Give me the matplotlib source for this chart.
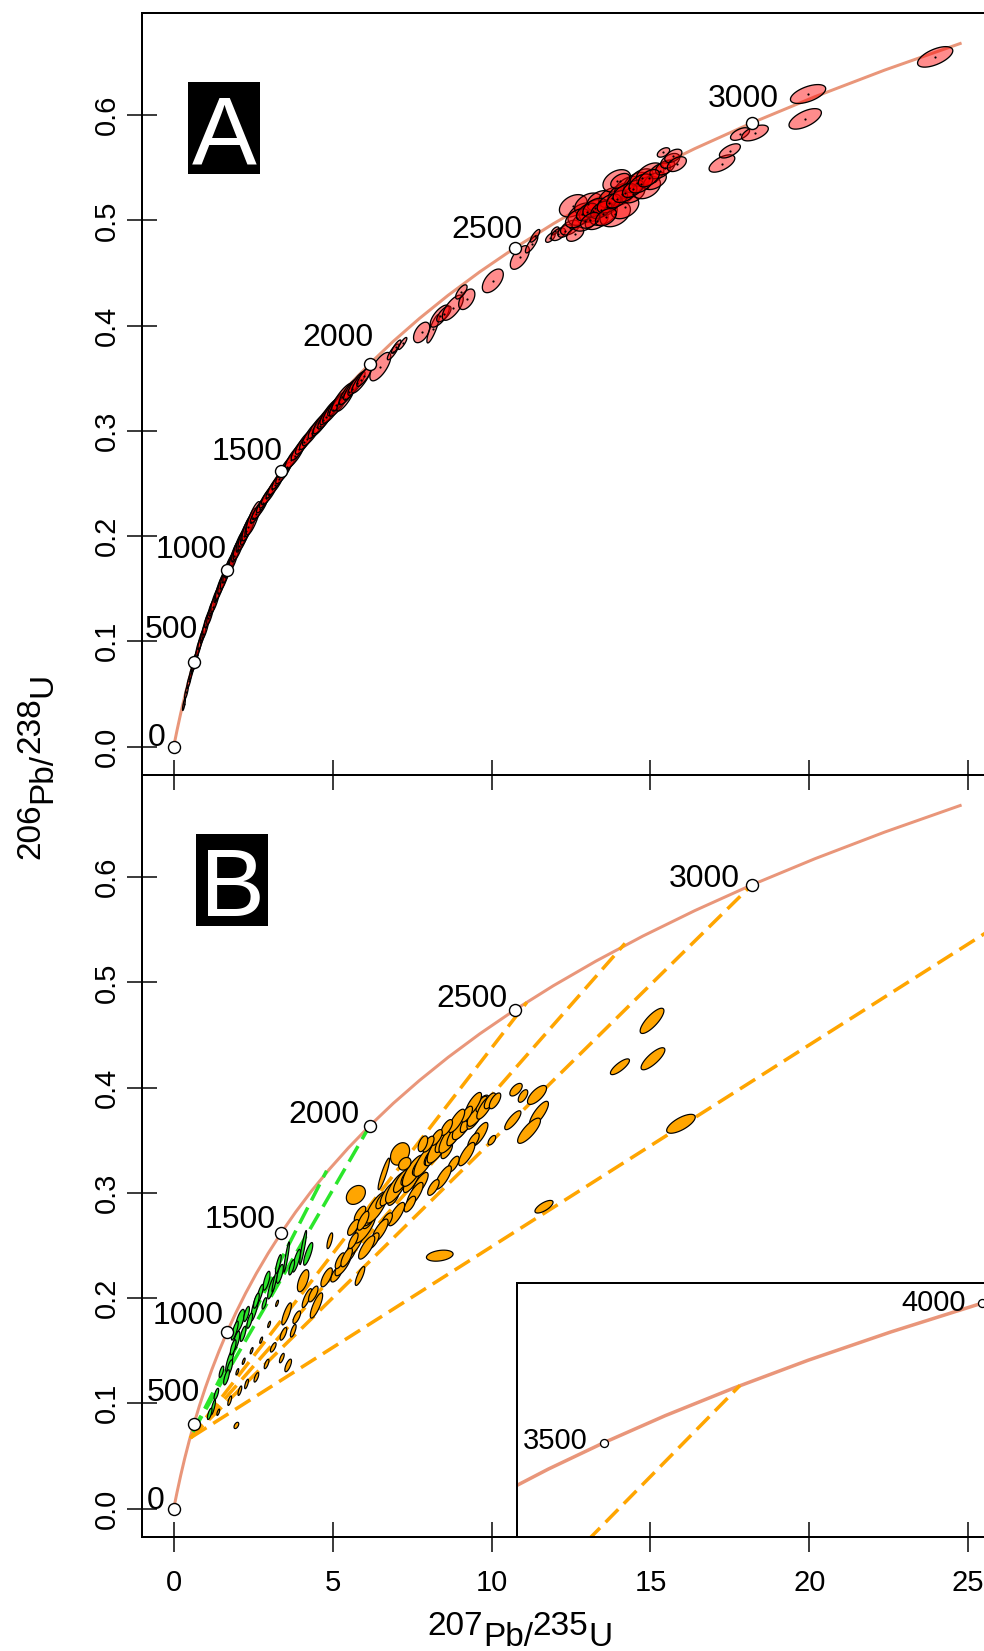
import numpy as np
import matplotlib
matplotlib.use("Agg")
import matplotlib.pyplot as plt
from matplotlib.collections import PolyCollection
from matplotlib.patches import Rectangle

plt.rcParams['font.family'] = ['Liberation Sans', 'DejaVu Sans']
plt.rcParams['lines.scale_dashes'] = False

# ---------------- data ----------------
# concordia (age Ma, 207Pb/235U, 206Pb/238U)
conc_t = [0, 50, 100, 200, 300, 400, 500, 600, 700, 800, 900, 1000, 1100, 1200, 1300, 1400,
          1500, 1600, 1700, 1800, 1900, 2000, 2100, 2200, 2300, 2400, 2500, 2600, 2700, 2800,
          2900, 3000, 3100, 3200, 3300, 3400, 3500, 3600, 3700, 3800, 3900, 4000, 4100]
conc_x = [0, 0.0505, 0.1035, 0.2177, 0.3438, 0.4828, 0.6363, 0.8056, 0.9925, 1.1987, 1.4263,
          1.6774, 1.9545, 2.2603, 2.5978, 2.9701, 3.3809, 3.8344, 4.3348, 4.8869, 5.4962,
          6.1685, 6.9104, 7.7291, 8.6327, 9.6296, 10.7296, 11.9436, 13.2834, 14.7626, 16.3929,
          18.1931, 20.1796, 22.3715, 24.7904, 27.4597, 30.405, 33.656, 37.242, 41.201, 45.568,
          50.388, 55.706]
conc_y = [0, 0.00779, 0.01563, 0.03151, 0.04764, 0.06402, 0.08066, 0.09754, 0.11470, 0.13213,
          0.14982, 0.16782, 0.18606, 0.20459, 0.22343, 0.24257, 0.26199, 0.28172, 0.30175,
          0.32212, 0.34278, 0.36376, 0.38513, 0.40674, 0.42876, 0.45109, 0.47377, 0.49677,
          0.52014, 0.54398, 0.56810, 0.59262, 0.61750, 0.64277, 0.66847, 0.69459, 0.72098,
          0.74796, 0.77517, 0.80308, 0.83123, 0.85990, 0.88912]
main_max_age = 3300
main_ages = [0, 500, 1000, 1500, 2000, 2500, 3000]
inset_ages = [3500, 4000]

# Panel A ellipses (x, y, sx, sy, rho)
A_x = [0.32, 0.40, 0.48, 0.55, 0.62, 0.66, 0.72, 0.78, 0.85, 0.92, 1.00, 1.08, 1.15, 1.22, 1.30,
       1.38, 1.45, 1.52, 1.60, 1.68, 1.75, 1.82, 1.90, 1.98, 2.05, 2.12, 2.20, 2.28, 2.35, 2.42, 2.50,
       2.60, 2.70, 2.80, 2.90, 3.00, 3.10, 3.20, 3.30, 3.45, 3.55, 3.70, 3.80, 3.95, 4.10, 4.20,
       4.35, 4.50, 4.60, 4.70, 4.80, 4.90, 5.00, 5.10, 5.20, 5.30, 5.40, 5.50, 5.60, 5.75, 5.90,
       6.00, 6.50, 6.90, 7.00, 7.20,
       7.80, 8.16, 8.37, 8.50, 8.78, 9.22, 9.05, 10.04, 10.89, 11.26, 11.37,
       11.85, 12.00, 12.10, 12.31, 12.47, 12.63, 12.57, 12.84, 12.94, 13.05, 13.20, 13.31, 13.41,
       13.52, 13.62, 13.78, 13.89, 13.94, 14.10, 14.20, 14.31, 14.46, 14.57, 14.72, 14.88, 14.99,
       15.14, 15.30, 15.46, 15.62, 15.72, 15.83, 15.41, 14.05,
       12.70, 13.00, 13.25, 13.45, 13.70, 13.95, 14.20, 14.45, 14.70, 14.95, 13.10, 13.60,
       17.25, 17.50, 17.82, 18.29, 19.87, 19.96, 23.96]
A_y = [0.040, 0.052, 0.062, 0.070, 0.077, 0.081, 0.087, 0.094, 0.101, 0.107, 0.114, 0.122, 0.127,
       0.133, 0.139, 0.146, 0.151, 0.156, 0.161, 0.167, 0.172, 0.176, 0.181, 0.187, 0.191, 0.196,
       0.200, 0.205, 0.209, 0.213, 0.217,
       0.221, 0.226, 0.231, 0.236, 0.240, 0.245, 0.249, 0.254, 0.260, 0.266, 0.272, 0.276, 0.283,
       0.289, 0.292, 0.298, 0.304, 0.305, 0.310, 0.313, 0.318, 0.320, 0.325, 0.326, 0.332, 0.330,
       0.337, 0.340, 0.345, 0.348, 0.352, 0.361, 0.375, 0.380, 0.383,
       0.3935, 0.397, 0.409, 0.411, 0.417, 0.425, 0.432, 0.4425, 0.4647, 0.4773, 0.4853,
       0.4836, 0.4900, 0.4868, 0.4899, 0.4931, 0.4868, 0.5138, 0.5059, 0.4995, 0.5153, 0.5090,
       0.4995, 0.5185, 0.5059, 0.5122, 0.5217, 0.5059, 0.5375, 0.5248, 0.5122, 0.5312, 0.5248,
       0.5359, 0.5407, 0.5312, 0.5439, 0.5375, 0.5470, 0.5502, 0.5565, 0.5613, 0.5534, 0.5645,
       0.5375,
       0.502, 0.508, 0.512, 0.510, 0.516, 0.520, 0.526, 0.530, 0.535, 0.540, 0.500, 0.503,
       0.554, 0.566, 0.582, 0.583, 0.5964, 0.620, 0.6553]
A_sx = [0.03, 0.04, 0.045, 0.045, 0.045, 0.06, 0.045, 0.06, 0.06, 0.06, 0.075, 0.075, 0.075, 0.075,
        0.09, 0.075, 0.09, 0.09, 0.09, 0.09, 0.105, 0.09, 0.105, 0.105, 0.12, 0.105, 0.12, 0.12,
        0.135, 0.12, 0.15,
        0.13, 0.16, 0.13, 0.14, 0.16, 0.13, 0.16, 0.14, 0.16, 0.17, 0.16, 0.20, 0.17, 0.18, 0.16,
        0.20, 0.18, 0.16, 0.21, 0.18, 0.20, 0.21, 0.17, 0.20, 0.22, 0.18, 0.20, 0.17, 0.18, 0.20,
        0.16, 0.22, 0.12, 0.10, 0.09,
        0.17, 0.13, 0.20, 0.15, 0.22, 0.17, 0.12, 0.22, 0.20, 0.13, 0.10,
        0.10, 0.08, 0.15, 0.15, 0.20, 0.18, 0.29, 0.29, 0.27, 0.29, 0.29, 0.24, 0.27, 0.29, 0.24,
        0.27, 0.32, 0.29, 0.29, 0.29, 0.29, 0.24, 0.27, 0.24, 0.29, 0.29, 0.24, 0.22, 0.20, 0.20,
        0.18, 0.20, 0.13, 0.20,
        0.25, 0.22, 0.25, 0.22, 0.25, 0.22, 0.25, 0.22, 0.25, 0.22, 0.20, 0.22,
        0.27, 0.22, 0.20, 0.28, 0.34, 0.37, 0.37]
A_sy = [0.0038, 0.0045, 0.0045, 0.0045, 0.0045, 0.006, 0.0045, 0.006, 0.006, 0.006, 0.0075, 0.006,
        0.0075, 0.006, 0.0075, 0.006, 0.0075, 0.0075, 0.0075, 0.0075, 0.0075, 0.0075, 0.009,
        0.0075, 0.009, 0.0075, 0.009, 0.009, 0.009, 0.009, 0.0105,
        0.0059, 0.0068, 0.0059, 0.0062, 0.0068, 0.0059, 0.0068, 0.0062, 0.0068, 0.0072, 0.0068,
        0.0081, 0.0072, 0.0075, 0.0065, 0.0081, 0.0075, 0.0065, 0.0085, 0.0075, 0.0081, 0.0085,
        0.0072, 0.0081, 0.0088, 0.0075, 0.0081, 0.0072, 0.0075, 0.0081, 0.0065, 0.0090, 0.0050,
        0.0042, 0.0038,
        0.0065, 0.0090, 0.0070, 0.0050, 0.0080, 0.0065, 0.0045, 0.0075, 0.0075, 0.0055, 0.0040,
        0.0030, 0.0025, 0.0040, 0.0040, 0.0047, 0.0045, 0.0071, 0.0071, 0.0065, 0.0071, 0.0071,
        0.0055, 0.0065, 0.0071, 0.0055, 0.0065, 0.0080, 0.0071, 0.0071, 0.0071, 0.0071, 0.0055,
        0.0065, 0.0055, 0.0071, 0.0071, 0.0055, 0.0050, 0.0047, 0.0047, 0.0042, 0.0047, 0.0030,
        0.0047,
        0.0060, 0.0055, 0.0060, 0.0055, 0.0060, 0.0055, 0.0060, 0.0055, 0.0060, 0.0055, 0.0050,
        0.0055,
        0.0055, 0.0045, 0.0040, 0.0050, 0.0065, 0.0060, 0.0065]
A_rho = [0.8] * 31 + [0.85] * 31 + [0.7, 0.85, 0.85, 0.85] + \
        [0.5, 0.85, 0.7, 0.7, 0.7, 0.5, 0.7, 0.55, 0.6, 0.8, 0.8] + \
        [0.6, 0.6, 0.5, 0.5, 0.46, 0.46, 0.36, 0.4, 0.4, 0.36, 0.4, 0.45, 0.36, 0.4, 0.45, 0.36,
         0.36, 0.36, 0.4, 0.4, 0.4, 0.45, 0.4, 0.45, 0.36, 0.4, 0.45, 0.46, 0.46, 0.46, 0.5, 0.46,
         0.5, 0.46] + \
        [0.45, 0.5, 0.45, 0.5, 0.45, 0.5, 0.45, 0.5, 0.45, 0.5, 0.5, 0.45] + \
        [0.6, 0.6, 0.55, 0.55, 0.6, 0.56, 0.6]

# Panel B orange ellipses
B_or_x = [5.12, 5.33, 5.54, 5.70, 5.86, 6.01, 6.12, 6.22, 6.38, 6.54, 6.75, 6.91, 7.01, 7.17, 7.33,
          7.48, 7.54, 7.69, 7.75, 7.90, 8.06, 8.17, 8.32, 8.48, 8.59, 8.69, 8.85, 9.01, 9.11, 9.27,
          9.37, 9.48, 9.58, 9.69, 9.79, 9.95, 10.11, 9.63, 9.43, 9.22, 8.80, 8.48, 8.17, 7.59, 7.43,
          7.01, 6.70, 6.49, 6.28, 6.07, 5.86, 5.65, 9.43, 9.22, 8.90, 8.59, 8.27, 8.01,
          10.77, 10.99, 11.43, 11.49, 11.18, 10.67, 10.01, 15.05, 15.08, 14.04, 15.96, 11.65, 8.37,
          7.12, 5.73, 7.27, 7.84, 4.91, 6.61,
          3.60, 4.07, 5.86, 4.49, 4.19, 3.55, 3.40, 1.97, 3.76, 5.23, 5.44, 5.65, 5.96, 4.81, 4.39,
          3.87, 3.45, 3.13, 2.92, 2.60, 2.29, 2.08, 1.76, 1.40, 1.13,
          2.45, 2.75, 3.00, 2.20, 3.25, 2.00]
B_or_y = [0.2228, 0.2323, 0.2418, 0.2513, 0.2608, 0.2671, 0.2735, 0.2798, 0.2861, 0.2924, 0.2988,
          0.2956, 0.3051, 0.3114, 0.3146, 0.3114, 0.3210, 0.3241, 0.3083, 0.3304, 0.3336, 0.3368,
          0.3431, 0.3494, 0.3400, 0.3526, 0.3558, 0.3590, 0.3653, 0.3684, 0.3748, 0.3716, 0.3780,
          0.3843, 0.3811, 0.3874, 0.3874, 0.3558, 0.3494, 0.3368, 0.3273, 0.3146, 0.3051, 0.2988,
          0.2893, 0.2798, 0.2735, 0.2640, 0.2545, 0.2481, 0.2798, 0.2671, 0.3843, 0.3748, 0.3684,
          0.3621, 0.3526, 0.3463,
          0.398, 0.392, 0.393, 0.375, 0.359, 0.369, 0.350, 0.4634, 0.4274, 0.4198, 0.3656, 0.2868,
          0.2403, 0.337, 0.298, 0.3276, 0.3466, 0.2545, 0.318,
          0.136, 0.2165, 0.221, 0.193, 0.200, 0.185, 0.143, 0.079, 0.169, 0.2355, 0.2387, 0.2545,
          0.2735, 0.2197, 0.2039, 0.1818, 0.166, 0.1532, 0.1374, 0.1247, 0.1184, 0.112, 0.1025,
          0.0915, 0.0899,
          0.150, 0.160, 0.175, 0.140, 0.195, 0.130]
B_or_sx = [0.12, 0.17, 0.12, 0.17, 0.12, 0.23, 0.12, 0.17, 0.23, 0.12, 0.17, 0.12, 0.23, 0.17, 0.12,
           0.17, 0.23, 0.12, 0.17, 0.23, 0.12, 0.17, 0.23, 0.17, 0.12, 0.23, 0.17, 0.12, 0.23, 0.17,
           0.12, 0.17, 0.23, 0.12, 0.17, 0.12, 0.12, 0.17, 0.12, 0.17, 0.12, 0.17, 0.12, 0.17, 0.12,
           0.17, 0.12, 0.17, 0.12, 0.17, 0.12, 0.12, 0.17, 0.12, 0.17, 0.12, 0.12, 0.12,
           0.13, 0.10, 0.20, 0.20, 0.24, 0.17, 0.08, 0.25, 0.25, 0.20, 0.30, 0.19, 0.28, 0.20, 0.20,
           0.13, 0.10, 0.06, 0.12,
           0.07, 0.12, 0.10, 0.13, 0.10, 0.10, 0.05, 0.05, 0.06, 0.10, 0.12, 0.10, 0.12, 0.12, 0.10,
           0.08, 0.07, 0.06, 0.05, 0.05, 0.04, 0.04, 0.04, 0.03, 0.03,
           0.03, 0.03, 0.03, 0.03, 0.03, 0.03]
B_or_sy = [0.005, 0.0074, 0.005, 0.0074, 0.005, 0.0099, 0.005, 0.0074, 0.0099, 0.005, 0.0074,
           0.005, 0.0099, 0.0074, 0.005, 0.0074, 0.0099, 0.005, 0.0074, 0.0099, 0.005, 0.0074,
           0.0099, 0.0074, 0.005, 0.0099, 0.0074, 0.005, 0.0099, 0.0074, 0.005, 0.0074, 0.0099,
           0.005, 0.0074, 0.005, 0.005, 0.0074, 0.005, 0.0074, 0.005, 0.0074, 0.005, 0.0074, 0.005,
           0.0074, 0.005, 0.0074, 0.005, 0.0074, 0.005, 0.005, 0.0074, 0.005, 0.0074, 0.005, 0.005,
           0.005,
           0.004, 0.004, 0.006, 0.008, 0.008, 0.006, 0.003, 0.008, 0.007, 0.005, 0.006, 0.004,
           0.0035, 0.0071, 0.006, 0.004, 0.005, 0.005, 0.010,
           0.004, 0.007, 0.006, 0.008, 0.006, 0.007, 0.003, 0.002, 0.004, 0.005, 0.006, 0.005,
           0.006, 0.006, 0.005, 0.004, 0.004, 0.003, 0.003, 0.003, 0.003, 0.003, 0.003, 0.002,
           0.002,
           0.002, 0.002, 0.002, 0.002, 0.002, 0.002]
B_or_rho = [0.67, 0.77, 0.67, 0.77, 0.67, 0.77, 0.67, 0.77, 0.77, 0.67, 0.77, 0.67, 0.77, 0.77,
            0.67, 0.77, 0.77, 0.67, 0.77, 0.77, 0.67, 0.77, 0.77, 0.77, 0.67, 0.77, 0.77, 0.67,
            0.77, 0.77, 0.67, 0.77, 0.77, 0.67, 0.77, 0.67, 0.67, 0.77, 0.67, 0.77, 0.67, 0.77,
            0.67, 0.77, 0.67, 0.77, 0.67, 0.77, 0.67, 0.77, 0.67, 0.67, 0.77, 0.67, 0.77, 0.67,
            0.67, 0.67,
            0.6, 0.6, 0.7, 0.8, 0.8, 0.8, 0.6, 0.8, 0.8, 0.8, 0.7, 0.7, 0.3, 0.3, 0.3, 0.3, 0.5,
            0.7, 0.9,
            0.7, 0.6, 0.8, 0.8, 0.8, 0.8, 0.7, 0.5, 0.7, 0.7, 0.7, 0.7, 0.7, 0.7, 0.7, 0.7, 0.7,
            0.7, 0.7, 0.7, 0.7, 0.7, 0.7, 0.7, 0.7,
            0.7, 0.7, 0.7, 0.7, 0.7, 0.7]

# Panel B green ellipses
B_gr_x = [4.23, 4.07, 3.86, 3.55, 3.34, 3.08, 2.92, 2.55, 2.08, 2.18, 1.97, 1.76, 1.76, 1.66, 1.34,
          1.24, 1.13, 2.71, 2.39, 3.18, 3.29, 3.71, 2.60, 2.29, 1.92, 1.87, 1.50, 2.85]
B_gr_y = [0.242, 0.248, 0.2355, 0.239, 0.223, 0.210, 0.2165, 0.191, 0.1785, 0.166, 0.1595, 0.1405,
          0.134, 0.1247, 0.1089, 0.0963, 0.090, 0.204, 0.1785, 0.2165, 0.2323, 0.2292, 0.1975,
          0.1849, 0.1691, 0.1532, 0.130, 0.195]
B_gr_sx = [0.08, 0.06, 0.07, 0.05, 0.06, 0.07, 0.06, 0.07, 0.08, 0.05, 0.06, 0.07, 0.05, 0.05, 0.04,
           0.04, 0.04, 0.06, 0.05, 0.05, 0.05, 0.05, 0.05, 0.05, 0.06, 0.05, 0.04, 0.04]
B_gr_sy = [0.006, 0.009, 0.006, 0.008, 0.005, 0.006, 0.005, 0.007, 0.006, 0.004, 0.005, 0.006,
           0.004, 0.004, 0.003, 0.004, 0.003, 0.005, 0.004, 0.006, 0.005, 0.004, 0.004, 0.004,
           0.005, 0.004, 0.003, 0.003]
B_gr_rho = [0.8, 0.9, 0.8, 0.9, 0.7, 0.8, 0.7, 0.8, 0.7, 0.7, 0.7, 0.8, 0.7, 0.7, 0.7, 0.8, 0.7,
            0.8, 0.7, 0.9, 0.8, 0.7, 0.7, 0.7, 0.8, 0.7, 0.7, 0.7]

# discordia lines (lower point -> upper intercept)
dis_or_x0 = [0.52, 0.52, 0.52, 0.55]
dis_or_y0 = [0.067, 0.067, 0.067, 0.0677]
dis_or_x1 = [11.11, 14.20, 18.19, 37.60]
dis_or_y1 = [0.481, 0.537, 0.5926, 0.778]
dis_gr_x0 = [0.60, 0.60]
dis_gr_y0 = [0.073, 0.073]
dis_gr_x1 = [6.17, 4.81]
dis_gr_y1 = [0.3638, 0.321]

xticks = [0, 5, 10, 15, 20, 25]
yticks = [0.0, 0.1, 0.2, 0.3, 0.4, 0.5, 0.6]

# ---------------- styles / layout ----------------
W, H, DPI = 984, 1651, 100
PX = 72.0 / DPI  # points per pixel
SALMON = '#E9967A'
ORANGE = '#FFA500'
GREEN = '#2BE62B'
ELL_K_A = 1.5   # confidence-ellipse scale factors
ELL_K_B = 1.5
ELL_K_G = 1.8

fig = plt.figure(figsize=(W / DPI, H / DPI), dpi=DPI)
fig.patch.set_facecolor('white')


def box(l, t, r, b):
    return [l / W, 1 - b / H, (r - l) / W, (b - t) / H]


axI = fig.add_axes(box(517, 1283, 1000, 1537), zorder=0.5)
axA = fig.add_axes(box(142, 13, 1000, 775), zorder=1)
axB = fig.add_axes(box(142, 775, 1000, 1537), zorder=1)
axA.patch.set_visible(False)
axB.patch.set_visible(False)


def ellipse_polys(xs, ys, sxs, sys_, rhos, k, n=48):
    t = np.linspace(0, 2 * np.pi, n)
    polys = []
    for x, y, sx, sy, r in zip(xs, ys, sxs, sys_, rhos):
        px = x + k * sx * np.cos(t)
        py = y + k * sy * (r * np.cos(t) + np.sqrt(1 - r * r) * np.sin(t))
        polys.append(np.column_stack([px, py]))
    return polys


def idx(age):
    return conc_t.index(age)


for ax in (axA, axB):
    ax.set_xlim(-1, 26)
    ax.set_ylim(-0.027, 0.697)
    ax.set_xticks(xticks)
    ax.set_yticks(yticks)
    ax.set_yticklabels([f"{v:.1f}" for v in yticks], rotation=90, va='center')
    ax.tick_params(direction='inout', length=30 * PX, width=1.5 * PX, labelsize=21)
    ax.tick_params(axis='y', pad=6 * PX)
    ax.tick_params(axis='x', pad=17 * PX)
    for s in ax.spines.values():
        s.set_linewidth(2 * PX)
    ax.spines['right'].set_visible(False)
    nmax = idx(main_max_age) + 1
    ax.plot(conc_x[:nmax], conc_y[:nmax], color=SALMON, lw=3 * PX, zorder=2,
            solid_capstyle='butt')

axA.tick_params(axis='x', labelbottom=False)

# Panel A ellipses
pc = PolyCollection(ellipse_polys(A_x, A_y, A_sx, A_sy, A_rho, ELL_K_A),
                    facecolors=(1, 0, 0, 0.45), edgecolors='black', linewidths=1.3 * PX, zorder=3)
axA.add_collection(pc)
axA.plot(A_x, A_y, 'o', ms=2.2 * PX, color='black', zorder=4, mew=0)

# Panel B discordia lines
for x0, y0, x1, y1 in zip(dis_or_x0, dis_or_y0, dis_or_x1, dis_or_y1):
    for ax in (axB, axI):
        ax.plot([x0, x1], [y0, y1], color=ORANGE, lw=3.5 * PX, dashes=(18 * PX, 8 * PX), zorder=2.5)
for x0, y0, x1, y1 in zip(dis_gr_x0, dis_gr_y0, dis_gr_x1, dis_gr_y1):
    axB.plot([x0, x1], [y0, y1], color=GREEN, lw=3.5 * PX, dashes=(18 * PX, 8 * PX), zorder=2.5)

pcB = PolyCollection(ellipse_polys(B_or_x, B_or_y, B_or_sx, B_or_sy, B_or_rho, ELL_K_B),
                     facecolors=ORANGE, edgecolors='black', linewidths=1.2 * PX, zorder=3)
axB.add_collection(pcB)
pcG = PolyCollection(ellipse_polys(B_gr_x, B_gr_y, B_gr_sx, B_gr_sy, B_gr_rho, ELL_K_G),
                     facecolors=GREEN, edgecolors='black', linewidths=1.2 * PX, zorder=3)
axB.add_collection(pcG)

# age markers + labels
offA = [(-8, 1), (4, 24), (0, 12), (1, 11), (4, 18), (8, 10), (27, 16)]
offB = [(-9, 0), (6, 23), (-3, 8), (-6, 5), (-10, 3), (-7, 3), (-12, -2)]
for ax, offs in ((axA, offA), (axB, offB)):
    mx = [conc_x[idx(a)] for a in main_ages]
    my = [conc_y[idx(a)] for a in main_ages]
    ax.plot(mx, my, 'o', ms=12 * PX, mfc='white', mec='black', mew=1.4 * PX, zorder=5)
    for a, x, y, (dx, dy) in zip(main_ages, mx, my, offs):
        ax.annotate(str(a), (x, y), xytext=(dx, dy), textcoords='offset pixels',
                    ha='right', va='baseline', fontsize=23, zorder=6)

# inset
axI.set_xlim(25.81, 51.34)
axI.set_ylim(0.627, 0.880)
axI.set_xticks([])
axI.set_yticks([])
for s in axI.spines.values():
    s.set_linewidth(2 * PX)
axI.spines['right'].set_visible(False)
axI.plot(conc_x[idx(3300):], conc_y[idx(3300):], color=SALMON, lw=3.5 * PX, zorder=2)
ix = [conc_x[idx(a)] for a in inset_ages]
iy = [conc_y[idx(a)] for a in inset_ages]
axI.plot(ix, iy, 'o', ms=8 * PX, mfc='white', mec='black', mew=1.3 * PX, zorder=5)
for a, x, y, dy in zip(inset_ages, ix, iy, (-6, -8)):
    axI.annotate(str(a), (x, y), xytext=(-16, dy), textcoords='offset pixels',
                 ha='right', va='baseline', fontsize=21, zorder=6)

# panel letters
for lab, (l, t, r, b), base in (('A', (188, 82, 260, 174), 163), ('B', (196, 834, 268, 926), 916)):
    fig.add_artist(Rectangle((l / W, 1 - b / H), (r - l) / W, (b - t) / H,
                             transform=fig.transFigure, facecolor='black', edgecolor='none'))
    fig.text((l + r) / 2 / W, 1 - base / H, lab, color='white', fontsize=70,
             ha='center', va='baseline')

# axis labels built from pieces (isotope numbers raised, full size)
renderer = fig.canvas.get_renderer()
LABEL_FS = 24


def piece_width(s):
    t = fig.text(0, 0, s, fontsize=LABEL_FS)
    w = t.get_window_extent(renderer).width
    t.remove()
    return w


def draw_label(pieces, center_px, base_px, raise_px, vertical):
    widths = [piece_width(s) for s, _ in pieces]
    total = sum(widths)
    pos = center_px - total / 2 if not vertical else center_px + total / 2
    for (s, up), w in zip(pieces, widths):
        if not vertical:
            yb = base_px - (raise_px if up else 0)
            fig.text(pos / W, 1 - yb / H, s, fontsize=LABEL_FS, ha='left', va='baseline')
            pos += w
        else:
            xb = base_px - (raise_px if up else 0)
            fig.text(xb / W, 1 - pos / H, s, fontsize=LABEL_FS, rotation=90,
                     rotation_mode='anchor', ha='left', va='baseline')
            pos -= w


draw_label([('207', True), ('Pb/', False), ('235', True), ('U', False)], 520, 1646, 11, False)
draw_label([('206', True), ('Pb/', False), ('238', True), ('U', False)], 766, 51, 12, True)

fig.savefig('out.png', dpi=DPI)
